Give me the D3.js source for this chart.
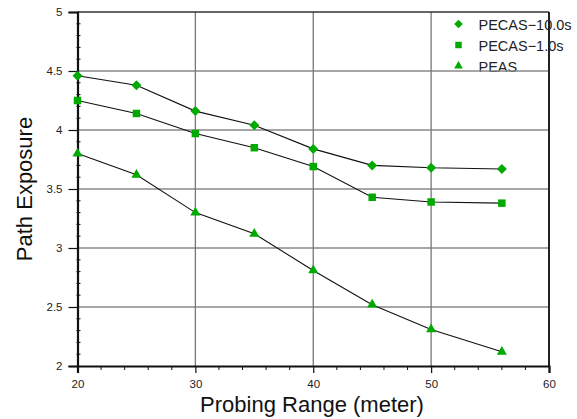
<!DOCTYPE html>
<html lang="en">
<head>
<meta charset="UTF-8">
<title>Path Exposure vs Probing Range</title>
<script src="https://d3js.org/d3.v7.min.js"></script>
<style>
    body { margin: 0; background: #fff; }
    svg { font-family: "Liberation Sans", Arial, sans-serif; }
</style>
</head>
<body>
<svg id="chart" width="577" height="419"></svg>
<script>
// probing range (meter)
const ranges = [20, 25, 30, 35, 40, 45, 50, 56];
const pecas10 = [4.46, 4.38, 4.16, 4.04, 3.84, 3.70, 3.68, 3.67];
const pecas1 = [4.25, 4.14, 3.97, 3.85, 3.69, 3.43, 3.39, 3.38];
const peas = [3.80, 3.62, 3.30, 3.12, 2.81, 2.52, 2.31, 2.12];
const seriesNames = ["PECAS\u221210.0s", "PECAS\u22121.0s", "PEAS"];
const xTicks = [20, 30, 40, 50, 60];
const yTicks = [2, 2.5, 3, 3.5, 4, 4.5, 5];

const svg = d3.select("#chart");
const margin = {top: 12, right: 28, bottom: 53, left: 77.5};
const width = 577 - margin.left - margin.right;
const height = 419 - margin.top - margin.bottom;
const g = svg.append("g").attr("transform", `translate(${margin.left},${margin.top})`);

const x = d3.scaleLinear().domain([20, 60]).range([0, width]);
const y = d3.scaleLinear().domain([2, 5]).range([height, 0]);

const green = "#00aa00";
const series = [
    {name: seriesNames[0], values: pecas10, sym: d3.symbolSquare, size: 50, rot: 45},
    {name: seriesNames[1], values: pecas1, sym: d3.symbolSquare, size: 56, rot: 0},
    {name: seriesNames[2], values: peas, sym: d3.symbolTriangle, size: 44, rot: 0}
];

// legend (drawn under grid, as in the original)
const legend = g.append("g").attr("transform", `translate(${x(20) + 381}, 12)`)
    .selectAll("g").data(series).enter().append("g")
    .attr("transform", (d, i) => `translate(0,${i * 21})`);
legend.append("path")
    .attr("d", d => d3.symbol(d.sym, d.size * 0.75)())
    .attr("transform", d => `rotate(${d.rot})`)
    .attr("fill", green);
legend.append("text")
    .attr("x", 20).attr("y", 6)
    .attr("font-size", 14.5).attr("fill", "#222")
    .text(d => d.name);

// grid
g.append("g").selectAll("line").data(yTicks.slice(1, -1)).enter().append("line")
    .attr("x1", 0).attr("x2", width)
    .attr("y1", d => y(d)).attr("y2", d => y(d))
    .attr("stroke", "#888").attr("stroke-width", 1.5);
g.append("g").selectAll("line").data(xTicks.slice(1, -1)).enter().append("line")
    .attr("y1", 0).attr("y2", height)
    .attr("x1", d => x(d)).attr("x2", d => x(d))
    .attr("stroke", "#777").attr("stroke-width", 1.3);

// frame top/right
g.append("line").attr("x1", 0).attr("x2", width).attr("y1", 0).attr("y2", 0)
    .attr("stroke", "#333").attr("stroke-width", 1.5);
g.append("line").attr("x1", width).attr("x2", width).attr("y1", 0).attr("y2", height)
    .attr("stroke", "#222").attr("stroke-width", 2);

// axes
const xMinor = d3.range(20, 61, 2).filter(v => v % 10 !== 0);
const yMinor = d3.range(20, 51, 1).map(v => v / 10).filter(v => Math.round(v * 10) % 5 !== 0);

const xAxis = g.append("g").attr("transform", `translate(0,${height})`)
    .call(d3.axisBottom(x).tickValues(xTicks).tickSize(7).tickPadding(7).tickFormat(d3.format("d")));
xAxis.select(".domain").attr("stroke", "#111").attr("stroke-width", 2.2);
xAxis.selectAll(".tick line").attr("stroke", "#111").attr("stroke-width", 1.2);
xAxis.selectAll("text").attr("font-size", 11.5).attr("fill", "#222").attr("font-family", "Liberation Sans, Arial, sans-serif");
xAxis.append("g").selectAll("line").data(xMinor).enter().append("line")
    .attr("x1", d => x(d)).attr("x2", d => x(d)).attr("y1", 0).attr("y2", 4)
    .attr("stroke", "#111").attr("stroke-width", 1);

const yAxis = g.append("g")
    .call(d3.axisLeft(y).tickValues(yTicks).tickSize(9).tickPadding(6).tickFormat(d3.format("")));
yAxis.select(".domain").attr("stroke", "#111").attr("stroke-width", 2.2);
yAxis.selectAll(".tick line").attr("stroke", "#111").attr("stroke-width", 1.2);
yAxis.selectAll("text").attr("font-size", 11.5).attr("fill", "#222").attr("font-family", "Liberation Sans, Arial, sans-serif");
yAxis.append("g").selectAll("line").data(yMinor).enter().append("line")
    .attr("y1", d => y(d)).attr("y2", d => y(d)).attr("x1", -1).attr("x2", 3)
    .attr("stroke", "#111").attr("stroke-width", 1);

// axis titles
svg.append("text")
    .attr("x", 312).attr("y", 412)
    .attr("text-anchor", "middle").attr("font-size", 22).attr("fill", "#111")
    .text("Probing Range (meter)");
svg.append("text")
    .attr("transform", `translate(32,${margin.top + y(3.5)}) rotate(-90)`)
    .attr("text-anchor", "middle").attr("font-size", 22).attr("fill", "#111")
    .text("Path Exposure");

// lines and markers
const line = d3.line().x((d, i) => x(ranges[i])).y(d => y(d));
series.forEach(s => {
    g.append("path").datum(s.values)
        .attr("d", line).attr("fill", "none")
        .attr("stroke", "#111").attr("stroke-width", 1.1);
});
series.forEach(s => {
    g.append("g").selectAll("path").data(s.values).enter().append("path")
        .attr("transform", (d, i) => `translate(${x(ranges[i])},${y(d)}) rotate(${s.rot})`)
        .attr("d", d3.symbol(s.sym, s.size)())
        .attr("fill", green);
});
</script>
</body>
</html>
